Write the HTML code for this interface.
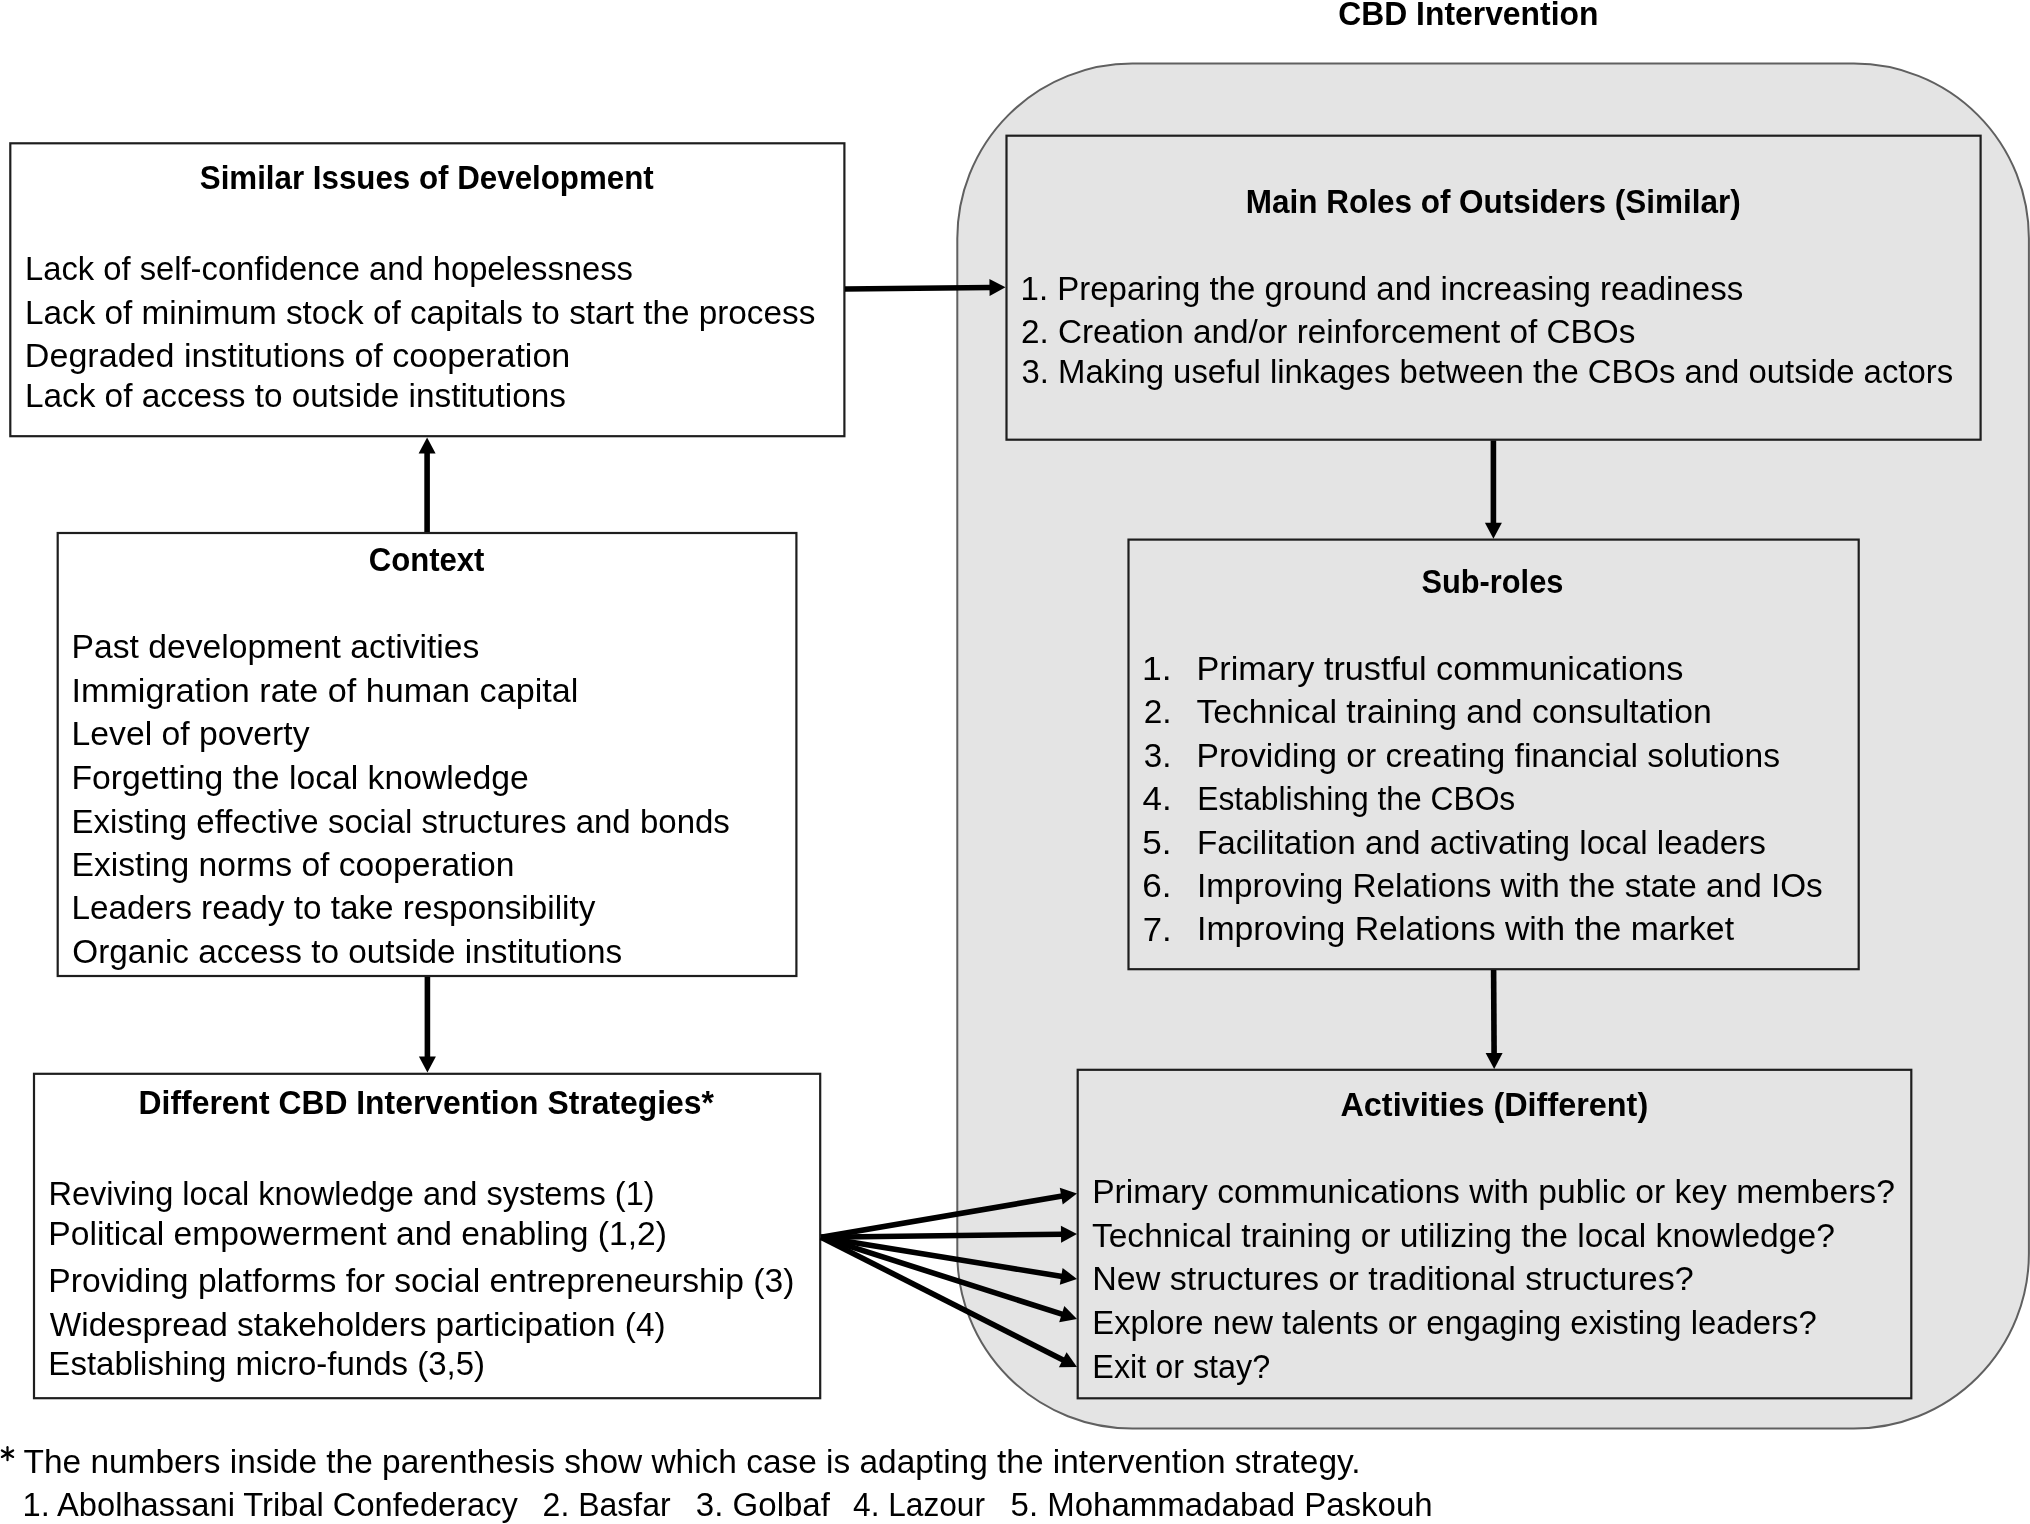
<!DOCTYPE html>
<html><head><meta charset="utf-8"><title>CBD Intervention diagram</title>
<style>html,body{margin:0;padding:0;background:#fff;width:2030px;height:1524px;overflow:hidden}
svg{display:block;font-family:"Liberation Sans",sans-serif;will-change:transform}</style></head>
<body><svg width="2030" height="1524" viewBox="0 0 2030 1524" fill="#000">
<rect x="957.3" y="63.6" width="1071.6" height="1364.9" rx="175" ry="175" fill="#e4e4e4" stroke="#606060" stroke-width="2"/>
<rect x="10.3" y="143.3" width="834.1" height="292.9" fill="#fff" stroke="#1e1e1e" stroke-width="2.2"/>
<rect x="57.7" y="533.0" width="738.7" height="443.0" fill="#fff" stroke="#1e1e1e" stroke-width="2.2"/>
<rect x="34.0" y="1073.8" width="786.2" height="324.4" fill="#fff" stroke="#1e1e1e" stroke-width="2.2"/>
<rect x="1006.5" y="135.7" width="974.1" height="304.0" fill="#e4e4e4" stroke="#1e1e1e" stroke-width="2.2"/>
<rect x="1128.5" y="539.6" width="730.2" height="429.6" fill="#e4e4e4" stroke="#1e1e1e" stroke-width="2.2"/>
<rect x="1077.7" y="1069.8" width="833.6" height="328.5" fill="#e4e4e4" stroke="#1e1e1e" stroke-width="2.2"/>
<line x1="845.0" y1="289.0" x2="990.5" y2="287.5" stroke="#000" stroke-width="5.6"/><polygon points="1005.5,287.3 989.6,296.0 989.4,279.0" fill="#000"/>
<line x1="427.1" y1="532.0" x2="427.1" y2="452.6" stroke="#000" stroke-width="5.6"/><polygon points="427.1,437.6 435.6,453.6 418.6,453.6" fill="#000"/>
<line x1="427.4" y1="977.0" x2="427.4" y2="1057.5" stroke="#000" stroke-width="5.6"/><polygon points="427.4,1072.5 418.9,1056.5 435.9,1056.5" fill="#000"/>
<line x1="1493.4" y1="440.5" x2="1493.4" y2="523.8" stroke="#000" stroke-width="5.6"/><polygon points="1493.4,538.8 1484.9,522.8 1501.9,522.8" fill="#000"/>
<line x1="1493.6" y1="970.0" x2="1494.1" y2="1054.0" stroke="#000" stroke-width="5.6"/><polygon points="1494.2,1069.0 1485.6,1053.1 1502.6,1052.9" fill="#000"/>
<line x1="821.0" y1="1237.2" x2="1062.2" y2="1196.0" stroke="#000" stroke-width="5.6"/><polygon points="1077.0,1193.5 1062.7,1204.6 1059.8,1187.8" fill="#000"/>
<line x1="821.0" y1="1237.2" x2="1062.0" y2="1234.2" stroke="#000" stroke-width="5.6"/><polygon points="1077.0,1234.0 1061.1,1242.7 1060.9,1225.7" fill="#000"/>
<line x1="821.0" y1="1237.2" x2="1062.2" y2="1276.5" stroke="#000" stroke-width="5.6"/><polygon points="1077.0,1278.9 1059.8,1284.7 1062.6,1267.9" fill="#000"/>
<line x1="821.0" y1="1237.2" x2="1062.7" y2="1314.4" stroke="#000" stroke-width="5.6"/><polygon points="1077.0,1319.0 1059.2,1322.2 1064.3,1306.0" fill="#000"/>
<line x1="821.0" y1="1237.2" x2="1063.6" y2="1360.2" stroke="#000" stroke-width="5.6"/><polygon points="1077.0,1367.0 1058.9,1367.3 1066.6,1352.2" fill="#000"/>
<line x1="7.50" y1="1447.20" x2="7.50" y2="1460.20" stroke="#000" stroke-width="2.2" stroke-linecap="round"/>
<line x1="1.87" y1="1450.45" x2="13.13" y2="1456.95" stroke="#000" stroke-width="2.2" stroke-linecap="round"/>
<line x1="13.13" y1="1450.45" x2="1.87" y2="1456.95" stroke="#000" stroke-width="2.2" stroke-linecap="round"/>
<text x="1338.25" y="25.1" font-size="33.6" font-weight="bold" textLength="260.17" lengthAdjust="spacingAndGlyphs">CBD Intervention</text>
<text x="199.77" y="189.3" font-size="33.6" font-weight="bold" textLength="453.99" lengthAdjust="spacingAndGlyphs">Similar Issues of Development</text>
<text x="24.99" y="280.3" font-size="33.8" textLength="607.99" lengthAdjust="spacingAndGlyphs">Lack of self-confidence and hopelessness</text>
<text x="24.94" y="323.8" font-size="33.8" textLength="790.40" lengthAdjust="spacingAndGlyphs">Lack of minimum stock of capitals to start the process</text>
<text x="24.88" y="366.6" font-size="33.8" textLength="545.45" lengthAdjust="spacingAndGlyphs">Degraded institutions of cooperation</text>
<text x="24.94" y="406.5" font-size="33.8" textLength="541.10" lengthAdjust="spacingAndGlyphs">Lack of access to outside institutions</text>
<text x="368.67" y="571.0" font-size="33.6" font-weight="bold" textLength="115.81" lengthAdjust="spacingAndGlyphs">Context</text>
<text x="71.51" y="658.2" font-size="33.8" textLength="407.91" lengthAdjust="spacingAndGlyphs">Past development activities</text>
<text x="71.47" y="701.5" font-size="33.8" textLength="506.82" lengthAdjust="spacingAndGlyphs">Immigration rate of human capital</text>
<text x="71.51" y="745.3" font-size="33.8" textLength="238.09" lengthAdjust="spacingAndGlyphs">Level of poverty</text>
<text x="71.51" y="788.7" font-size="33.8" textLength="457.31" lengthAdjust="spacingAndGlyphs">Forgetting the local knowledge</text>
<text x="71.57" y="832.6" font-size="33.8" textLength="658.31" lengthAdjust="spacingAndGlyphs">Existing effective social structures and bonds</text>
<text x="71.52" y="875.7" font-size="33.8" textLength="442.99" lengthAdjust="spacingAndGlyphs">Existing norms of cooperation</text>
<text x="71.54" y="919.4" font-size="33.8" textLength="523.82" lengthAdjust="spacingAndGlyphs">Leaders ready to take responsibility</text>
<text x="72.33" y="962.8" font-size="33.8" textLength="549.90" lengthAdjust="spacingAndGlyphs">Organic access to outside institutions</text>
<text x="138.60" y="1114.4" font-size="33.6" font-weight="bold" textLength="575.25" lengthAdjust="spacingAndGlyphs">Different CBD Intervention Strategies*</text>
<text x="48.41" y="1205.2" font-size="33.8" textLength="606.20" lengthAdjust="spacingAndGlyphs">Reviving local knowledge and systems (1)</text>
<text x="48.32" y="1245.1" font-size="33.8" textLength="618.70" lengthAdjust="spacingAndGlyphs">Political empowerment and enabling (1,2)</text>
<text x="48.31" y="1292.4" font-size="33.8" textLength="746.19" lengthAdjust="spacingAndGlyphs">Providing platforms for social entrepreneurship (3)</text>
<text x="49.80" y="1335.8" font-size="33.8" textLength="615.77" lengthAdjust="spacingAndGlyphs">Widespread stakeholders participation (4)</text>
<text x="48.37" y="1375.4" font-size="33.8" textLength="436.75" lengthAdjust="spacingAndGlyphs">Establishing micro-funds (3,5)</text>
<text x="1245.72" y="212.8" font-size="33.6" font-weight="bold" textLength="495.08" lengthAdjust="spacingAndGlyphs">Main Roles of Outsiders (Similar)</text>
<text x="1020.57" y="300.0" font-size="33.8" textLength="722.56" lengthAdjust="spacingAndGlyphs">1. Preparing the ground and increasing readiness</text>
<text x="1020.93" y="343.3" font-size="33.8" textLength="614.42" lengthAdjust="spacingAndGlyphs">2. Creation and/or reinforcement of CBOs</text>
<text x="1021.53" y="383.2" font-size="33.8" textLength="931.58" lengthAdjust="spacingAndGlyphs">3. Making useful linkages between the CBOs and outside actors</text>
<text x="1421.48" y="592.8" font-size="33.6" font-weight="bold" textLength="141.90" lengthAdjust="spacingAndGlyphs">Sub-roles</text>
<text x="1142.05" y="679.9" font-size="33.8" textLength="29.60" lengthAdjust="spacingAndGlyphs">1.</text>
<text x="1143.63" y="723.2" font-size="33.8" textLength="27.82" lengthAdjust="spacingAndGlyphs">2.</text>
<text x="1143.82" y="766.8" font-size="33.8" textLength="27.60" lengthAdjust="spacingAndGlyphs">3.</text>
<text x="1142.47" y="810.4" font-size="33.8" textLength="29.13" lengthAdjust="spacingAndGlyphs">4.</text>
<text x="1142.32" y="854.4" font-size="33.8" textLength="29.29" lengthAdjust="spacingAndGlyphs">5.</text>
<text x="1142.32" y="897.4" font-size="33.8" textLength="29.29" lengthAdjust="spacingAndGlyphs">6.</text>
<text x="1142.65" y="941.3" font-size="33.8" textLength="28.92" lengthAdjust="spacingAndGlyphs">7.</text>
<text x="1196.56" y="679.9" font-size="33.8" textLength="486.76" lengthAdjust="spacingAndGlyphs">Primary trustful communications</text>
<text x="1196.40" y="723.2" font-size="33.8" textLength="515.48" lengthAdjust="spacingAndGlyphs">Technical training and consultation</text>
<text x="1196.61" y="767.0" font-size="33.8" textLength="583.52" lengthAdjust="spacingAndGlyphs">Providing or creating financial solutions</text>
<text x="1197.28" y="810.3" font-size="33.8" textLength="317.99" lengthAdjust="spacingAndGlyphs">Establishing the CBOs</text>
<text x="1196.95" y="853.7" font-size="33.8" textLength="568.85" lengthAdjust="spacingAndGlyphs">Facilitation and activating local leaders</text>
<text x="1197.04" y="897.0" font-size="33.8" textLength="625.70" lengthAdjust="spacingAndGlyphs">Improving Relations with the state and IOs</text>
<text x="1197.00" y="940.4" font-size="33.8" textLength="537.02" lengthAdjust="spacingAndGlyphs">Improving Relations with the market</text>
<text x="1340.44" y="1116.0" font-size="33.6" font-weight="bold" textLength="307.74" lengthAdjust="spacingAndGlyphs">Activities (Different)</text>
<text x="1092.22" y="1203.0" font-size="33.8" textLength="802.61" lengthAdjust="spacingAndGlyphs">Primary communications with public or key members?</text>
<text x="1091.91" y="1246.9" font-size="33.8" textLength="742.92" lengthAdjust="spacingAndGlyphs">Technical training or utilizing the local knowledge?</text>
<text x="1092.18" y="1290.0" font-size="33.8" textLength="601.54" lengthAdjust="spacingAndGlyphs">New structures or traditional structures?</text>
<text x="1092.29" y="1334.2" font-size="33.8" textLength="724.36" lengthAdjust="spacingAndGlyphs">Explore new talents or engaging existing leaders?</text>
<text x="1092.33" y="1377.6" font-size="33.8" textLength="177.88" lengthAdjust="spacingAndGlyphs">Exit or stay?</text>
<text x="23.51" y="1472.5" font-size="33.8" textLength="1337.07" lengthAdjust="spacingAndGlyphs">The numbers inside the parenthesis show which case is adapting the intervention strategy.</text>
<text x="22.60" y="1516.0" font-size="33.8" textLength="495.31" lengthAdjust="spacingAndGlyphs">1. Abolhassani Tribal Confederacy</text>
<text x="542.61" y="1516.0" font-size="33.8" textLength="128.04" lengthAdjust="spacingAndGlyphs">2. Basfar</text>
<text x="695.82" y="1516.0" font-size="33.8" textLength="134.13" lengthAdjust="spacingAndGlyphs">3. Golbaf</text>
<text x="853.06" y="1516.0" font-size="33.8" textLength="131.96" lengthAdjust="spacingAndGlyphs">4. Lazour</text>
<text x="1010.55" y="1516.0" font-size="33.8" textLength="422.13" lengthAdjust="spacingAndGlyphs">5. Mohammadabad Paskouh</text>
</svg></body></html>
